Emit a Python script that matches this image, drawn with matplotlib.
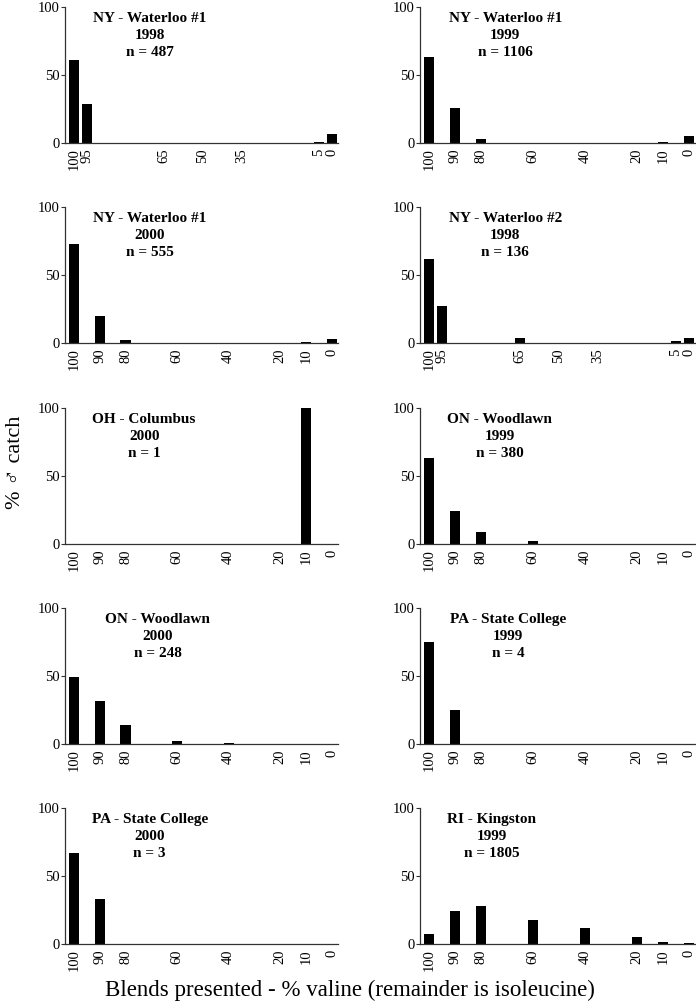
import numpy as np
import matplotlib
matplotlib.use('Agg')
from matplotlib import pyplot as plt

plt.rcParams['font.family'] = ['Liberation Serif', 'DejaVu Serif']

# blends (% valine) used in each year
blends_98 = [100, 95, 65, 50, 35, 5, 0]
blends_99 = [100, 90, 80, 60, 40, 20, 10, 0]

# panel titles
sites = ['NY - Waterloo #1', 'NY - Waterloo #1', 'NY - Waterloo #1', 'NY - Waterloo #2',
         'OH - Columbus', 'ON - Woodlawn', 'ON - Woodlawn', 'PA - State College',
         'PA - State College', 'RI - Kingston']
years = ['1998', '1999', '2000', '1998', '2000', '1999', '2000', '1999', '2000', '1999']
counts = [487, 1106, 555, 136, 1, 380, 248, 4, 3, 1805]

# % male catch per blend
catch_ny1_98 = [61, 28.5, 0.3, 0.3, 0, 1, 6.5]
catch_ny1_99 = [63, 26, 3, 0, 0, 0, 1, 5]
catch_ny1_00 = [73, 20, 2.4, 0, 0, 0, 0.5, 3]
catch_ny2_98 = [62, 27, 4, 0, 0.3, 1.7, 4]
catch_oh_00 = [0, 0, 0, 0, 0, 0, 100, 0]
catch_on_99 = [63, 24, 8.6, 2.5, 0, 0, 0, 0]
catch_on_00 = [49.5, 31.7, 13.9, 2.4, 0.7, 0, 0, 0]
catch_pa_99 = [75, 25, 0, 0, 0, 0, 0, 0]
catch_pa_00 = [66.7, 33.3, 0, 0, 0, 0, 0, 0]
catch_ri_99 = [7, 24.3, 28, 18, 11.5, 5.4, 1.2, 0.5]

panel_blends = [blends_98, blends_99, blends_99, blends_98, blends_99,
                blends_99, blends_99, blends_99, blends_99, blends_99]
panel_catch = [catch_ny1_98, catch_ny1_99, catch_ny1_00, catch_ny2_98, catch_oh_00,
               catch_on_99, catch_on_00, catch_pa_99, catch_pa_00, catch_ri_99]

# horizontal placement of the title block (axes fraction)
title_x = [0.31, 0.31, 0.31, 0.31, 0.29, 0.29, 0.34, 0.32, 0.31, 0.26]

fig = plt.figure(figsize=(6.96, 10.07), dpi=100)
W, H = 696, 1007

for i in range(10):
    row, col = i // 2, i % 2
    left = 65 if col == 0 else 420
    width = 273 if col == 0 else 275
    bottom = 143 + 200 * row + (1 if row >= 2 else 0)
    ax = fig.add_axes([left / W, 1 - bottom / H, width / W, 136 / H])

    ax.bar(panel_blends[i], panel_catch[i], width=4, color='black')
    ax.set_xlim(103.5, -2.4)
    ax.set_ylim(0, 100)
    ax.set_yticks([0, 50, 100])
    ax.set_xticks(panel_blends[i])
    ax.set_xticklabels([str(b) for b in panel_blends[i]], rotation=90)
    ax.tick_params(axis='x', length=0, pad=4, labelsize=10.5)
    ax.tick_params(axis='y', length=3, width=0.8, pad=1, labelsize=10.5, color='#333333')
    for s in ['top', 'right']:
        ax.spines[s].set_visible(False)
    for s in ['left', 'bottom']:
        ax.spines[s].set_color('#333333')
        ax.spines[s].set_linewidth(0.9)

    ax.text(title_x[i], 0.965, '%s\n%s\nn = %d' % (sites[i], years[i], counts[i]),
            transform=ax.transAxes, ha='center', va='top', fontsize=11,
            fontweight='bold', linespacing=1.4)

fig.text(15 / W, 1 - 462 / H, '% \u2642 catch', rotation=90, ha='center', va='center',
         fontsize=16)
fig.text(350 / W, 1 - 990 / H, 'Blends presented - % valine (remainder is isoleucine)',
         ha='center', va='center', fontsize=16.5)

fig.savefig('out.png', dpi=100)
